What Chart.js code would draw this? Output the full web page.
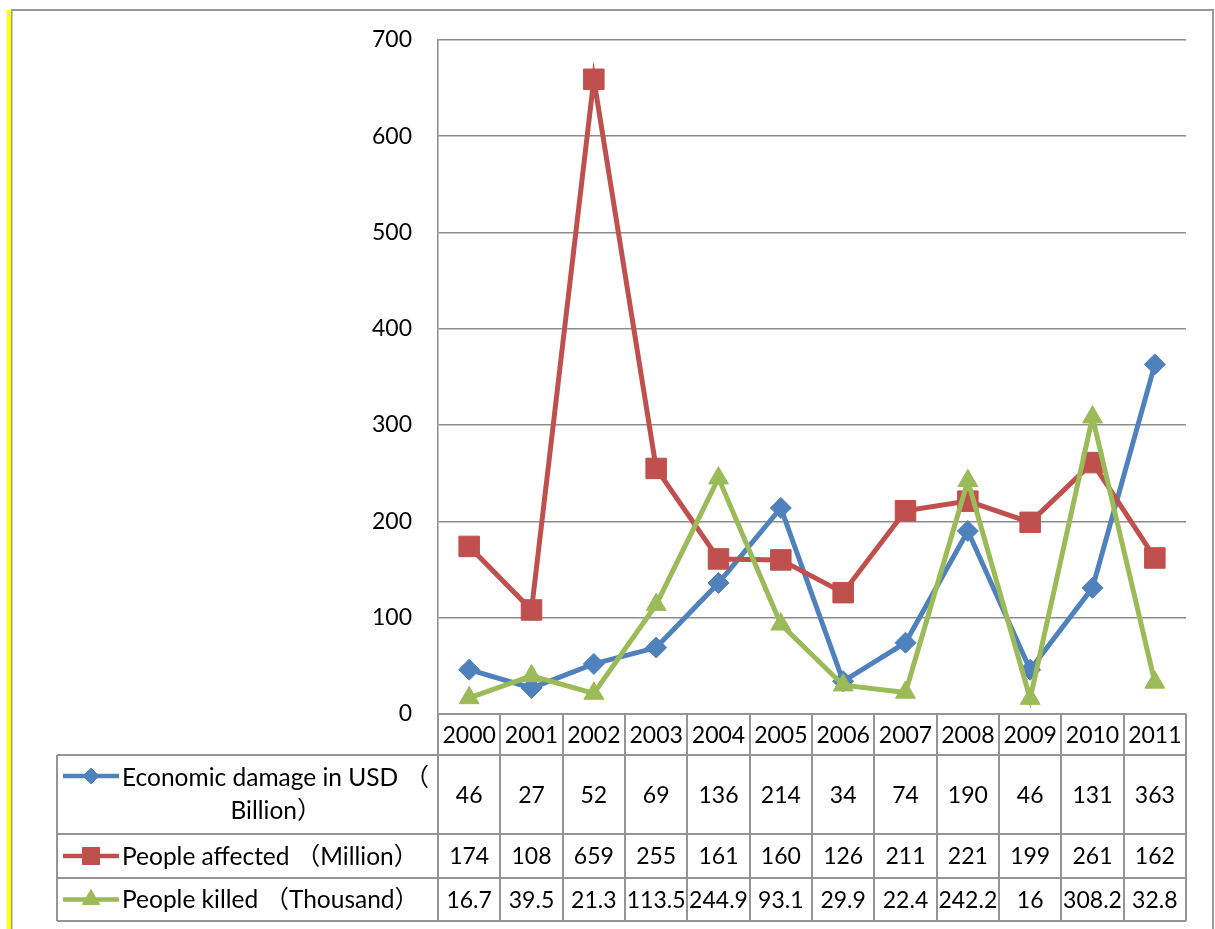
<!DOCTYPE html>
<html>
<head>
<meta charset="utf-8">
<script src="https://cdn.jsdelivr.net/npm/chart.js@4.4.0/dist/chart.umd.min.js"></script>
<style>
  html, body { margin: 0; padding: 0; background: #fff; overflow: hidden; }
  #wrap { position: relative; width: 1215px; height: 929px; }
  canvas { display: block; }
</style>
</head>
<body>
<div id="wrap"><canvas id="c" width="1215" height="929"></canvas></div>
<script>
// Disaster statistics 2000-2011
const years = ['2000', '2001', '2002', '2003', '2004', '2005', '2006', '2007', '2008', '2009', '2010', '2011'];
const economicDamage = [46, 27, 52, 69, 136, 214, 34, 74, 190, 46, 131, 363];
const peopleAffected = [174, 108, 659, 255, 161, 160, 126, 211, 221, 199, 261, 162];
const peopleKilled = [16.7, 39.5, 21.3, 113.5, 244.9, 93.1, 29.9, 22.4, 242.2, 16, 308.2, 32.8];
const seriesLabels = [
  ['Economic damage in USD （', 'Billion）'],
  ['People affected （Million）'],
  ['People killed （Thousand）']
];
const yTickValues = [0, 100, 200, 300, 400, 500, 600, 700];

const FONT = 'Lato, "Noto Sans CJK SC", sans-serif';
const GRID = '#8c8c8c';
const BLUE = '#4F81BD', RED = '#C0504D', GREEN = '#9BBB59';

const series = [
  { label: seriesLabels[0].join(''), data: economicDamage, color: BLUE, style: 'rectRot', radius: 10.5, keyRadius: 8, order: 3 },
  { label: seriesLabels[1][0], data: peopleAffected, color: RED, style: 'rect', radius: 14.5, keyRadius: 12, order: 2 },
  { label: seriesLabels[2][0], data: peopleKilled, color: GREEN, style: 'triangle', radius: 11.5, keyRadius: 10, order: 1 }
];

// Data table under the plot: year header row + one row per series
const tablePlugin = {
  id: 'dataTable',
  afterDraw(chart) {
    const ctx = chart.ctx;
    const area = chart.chartArea;
    const n = years.length;
    const colW = (area.right - area.left) / n;
    const labelLeft = 57;
    const rowEdges = [area.bottom, area.bottom + 41, area.bottom + 120, area.bottom + 164, area.bottom + 207];

    ctx.save();
    // outer frame
    ctx.fillStyle = '#ffff00';
    ctx.fillRect(7, 10, 4, 919);
    ctx.fillStyle = '#9a9a9a';
    ctx.fillRect(11, 9, 1203, 2);
    ctx.fillRect(11, 10, 1.5, 919);
    ctx.fillRect(1212, 9, 2, 920);

    // table grid
    ctx.strokeStyle = '#959595';
    ctx.lineWidth = 2;
    ctx.beginPath();
    ctx.moveTo(area.left, rowEdges[0]); ctx.lineTo(area.right, rowEdges[0]);
    for (let r = 1; r < rowEdges.length; r++) {
      ctx.moveTo(labelLeft, rowEdges[r]); ctx.lineTo(area.right, rowEdges[r]);
    }
    ctx.moveTo(labelLeft, rowEdges[1]); ctx.lineTo(labelLeft, rowEdges[4]);
    for (let i = 0; i <= n; i++) {
      const x = Math.round(area.left + i * colW);
      ctx.moveTo(x, rowEdges[0]); ctx.lineTo(x, rowEdges[4]);
    }
    ctx.stroke();

    // values
    ctx.fillStyle = '#000';
    ctx.font = '23px ' + FONT;
    ctx.textAlign = 'center';
    ctx.textBaseline = 'middle';
    const xs = years.map((_, i) => chart.scales.x.getPixelForValue(i));
    years.forEach((y, i) => ctx.fillText(y, xs[i], (rowEdges[0] + rowEdges[1]) / 2 + 1));
    series.forEach((s, r) => {
      const cy = (rowEdges[r + 1] + rowEdges[r + 2]) / 2 + 1;
      s.data.forEach((v, i) => ctx.fillText(String(v), xs[i], cy));
    });

    // row labels with legend keys
    ctx.font = '24.5px ' + FONT;
    series.forEach((s, r) => {
      const top = rowEdges[r + 1], bottom = rowEdges[r + 2];
      const lines = seriesLabels[r];
      const cy = (top + bottom) / 2;
      const keyY = lines.length > 1 ? top + 21 : cy;
      ctx.strokeStyle = s.color;
      ctx.lineWidth = 4.5;
      ctx.beginPath();
      ctx.moveTo(63, keyY); ctx.lineTo(119, keyY);
      ctx.stroke();
      ctx.fillStyle = s.color;
      ctx.strokeStyle = s.color;
      ctx.lineWidth = 1;
      Chart.helpers.drawPoint(ctx, { pointStyle: s.style, radius: s.keyRadius, rotation: 0, borderWidth: 1 }, 91, keyY);
      ctx.fillStyle = '#000';
      if (lines.length > 1) {
        ctx.textAlign = 'left';
        ctx.fillText(lines[0], 122, keyY + 2);
        ctx.textAlign = 'center';
        ctx.fillText(lines[1], 276, keyY + 35);
      } else {
        ctx.textAlign = 'left';
        ctx.fillText(lines[0], 122, cy + 1);
      }
    });
    ctx.restore();
  }
};

new Chart(document.getElementById('c'), {
  type: 'line',
  data: {
    labels: years,
    datasets: series.map(s => ({
      label: s.label,
      data: s.data,
      order: s.order,
      borderColor: s.color,
      backgroundColor: s.color,
      borderWidth: 5,
      tension: 0,
      pointStyle: s.style,
      pointRadius: s.radius,
      pointHoverRadius: s.radius,
      pointBackgroundColor: s.color,
      pointBorderColor: s.color,
      pointBorderWidth: 1
    }))
  },
  options: {
    responsive: false,
    devicePixelRatio: 1,
    animation: false,
    layout: { padding: { left: 10, top: 39, right: 29, bottom: 215 } },
    plugins: { legend: { display: false }, tooltip: { enabled: false } },
    scales: {
      x: { display: false, offset: true },
      y: {
        min: 0, max: 700,
        afterFit(scale) { scale.width = 428; },
        afterBuildTicks(scale) { scale.ticks = yTickValues.map(v => ({ value: v })); },
        grid: { color: GRID, lineWidth: 1.5, drawTicks: false },
        border: { display: true, color: GRID, width: 1.5 },
        ticks: { padding: 26, color: '#000', font: { family: FONT, size: 23 } }
      }
    }
  },
  plugins: [tablePlugin]
});
</script>
</body>
</html>
